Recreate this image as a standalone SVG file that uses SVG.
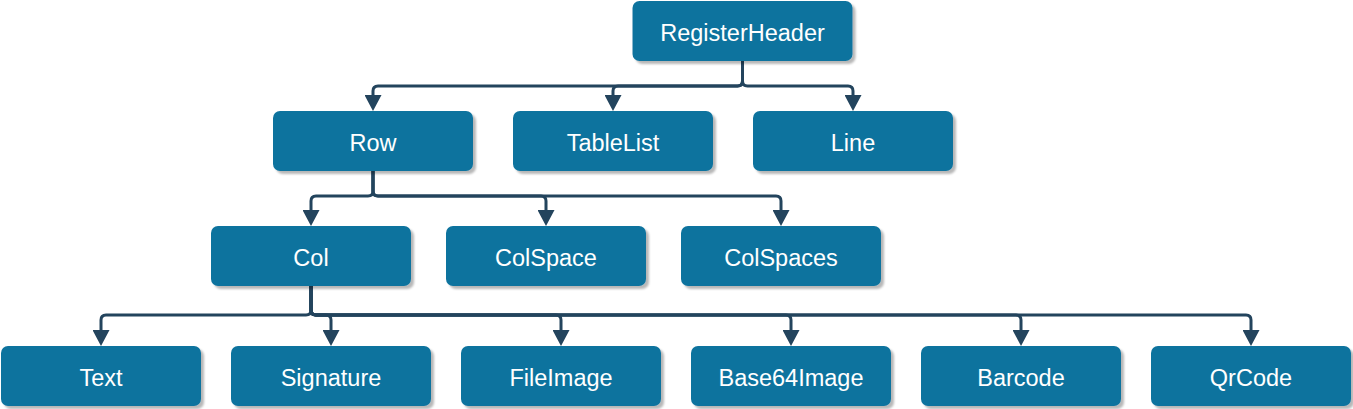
<svg xmlns="http://www.w3.org/2000/svg" width="1353" height="409" viewBox="0 0 1353 409">
<defs>
<filter id="sh" x="-10%" y="-10%" width="130%" height="140%">
<feDropShadow dx="3" dy="3" stdDeviation="0.8" flood-color="#000" flood-opacity="0.28"/>
</filter>
<marker id="ah" viewBox="0 0 16 17" refX="0" refY="8.5" markerWidth="16" markerHeight="17" markerUnits="userSpaceOnUse" orient="auto">
<path d="M0,0 L16,8.5 L0,17 z" fill="#23445D"/>
</marker>
</defs>
<style>
.n rect{fill:#10739E;filter:url(#sh)}
.n text{fill:#fff;font-family:"Liberation Sans",Arial,sans-serif;font-size:23.5px;text-anchor:middle}
.e path{fill:none;stroke:#23445D;stroke-width:3;marker-end:url(#ah)}
</style>
<g id="connectors" class="e">
<path d="M742.5,61 V81 Q742.5,86 737.5,86 H378 Q373,86 373,91 V95"/>
<path d="M742.5,61 V81 Q742.5,86 737.5,86 H618 Q613,86 613,91 V95"/>
<path d="M742.5,61 V81 Q742.5,86 747.5,86 H848 Q853,86 853,91 V95"/>
<path d="M373,171 V191 Q373,196 368,196 H316 Q311,196 311,201 V210"/>
<path d="M373,171 V191 Q373,196 378,196 H541 Q546,196 546,201 V210"/>
<path d="M373,171 V191 Q373,196 378,196 H776 Q781,196 781,201 V210"/>
<path d="M311,286 V310 Q311,315 306,315 H106 Q101,315 101,320 V330"/>
<path d="M311,286 V310 Q311,315 316,315 H326 Q331,315 331,320 V330"/>
<path d="M311,286 V310 Q311,315 316,315 H556 Q561,315 561,320 V330"/>
<path d="M311,286 V310 Q311,315 316,315 H786 Q791,315 791,320 V330"/>
<path d="M311,286 V310 Q311,315 316,315 H1016 Q1021,315 1021,320 V330"/>
<path d="M311,286 V310 Q311,315 316,315 H1246 Q1251,315 1251,320 V330"/>
</g>
<g id="RegisterHeader" class="n"><rect x="632.5" y="1" width="220" height="60" rx="7"/><text x="742.5" y="40.5">RegisterHeader</text></g>
<g id="Row" class="n"><rect x="273" y="111" width="200" height="60" rx="7"/><text x="373" y="150.5">Row</text></g>
<g id="TableList" class="n"><rect x="513" y="111" width="200" height="60" rx="7"/><text x="613" y="150.5">TableList</text></g>
<g id="Line" class="n"><rect x="753" y="111" width="200" height="60" rx="7"/><text x="853" y="150.5">Line</text></g>
<g id="Col" class="n"><rect x="211" y="226" width="200" height="60" rx="7"/><text x="311" y="265.5">Col</text></g>
<g id="ColSpace" class="n"><rect x="446" y="226" width="200" height="60" rx="7"/><text x="546" y="265.5">ColSpace</text></g>
<g id="ColSpaces" class="n"><rect x="681" y="226" width="200" height="60" rx="7"/><text x="781" y="265.5">ColSpaces</text></g>
<g id="Text" class="n"><rect x="1" y="346" width="200" height="60" rx="7"/><text x="101" y="385.5">Text</text></g>
<g id="Signature" class="n"><rect x="231" y="346" width="200" height="60" rx="7"/><text x="331" y="385.5">Signature</text></g>
<g id="FileImage" class="n"><rect x="461" y="346" width="200" height="60" rx="7"/><text x="561" y="385.5">FileImage</text></g>
<g id="Base64Image" class="n"><rect x="691" y="346" width="200" height="60" rx="7"/><text x="791" y="385.5">Base64Image</text></g>
<g id="Barcode" class="n"><rect x="921" y="346" width="200" height="60" rx="7"/><text x="1021" y="385.5">Barcode</text></g>
<g id="QrCode" class="n"><rect x="1151" y="346" width="200" height="60" rx="7"/><text x="1251" y="385.5">QrCode</text></g>
</svg>
